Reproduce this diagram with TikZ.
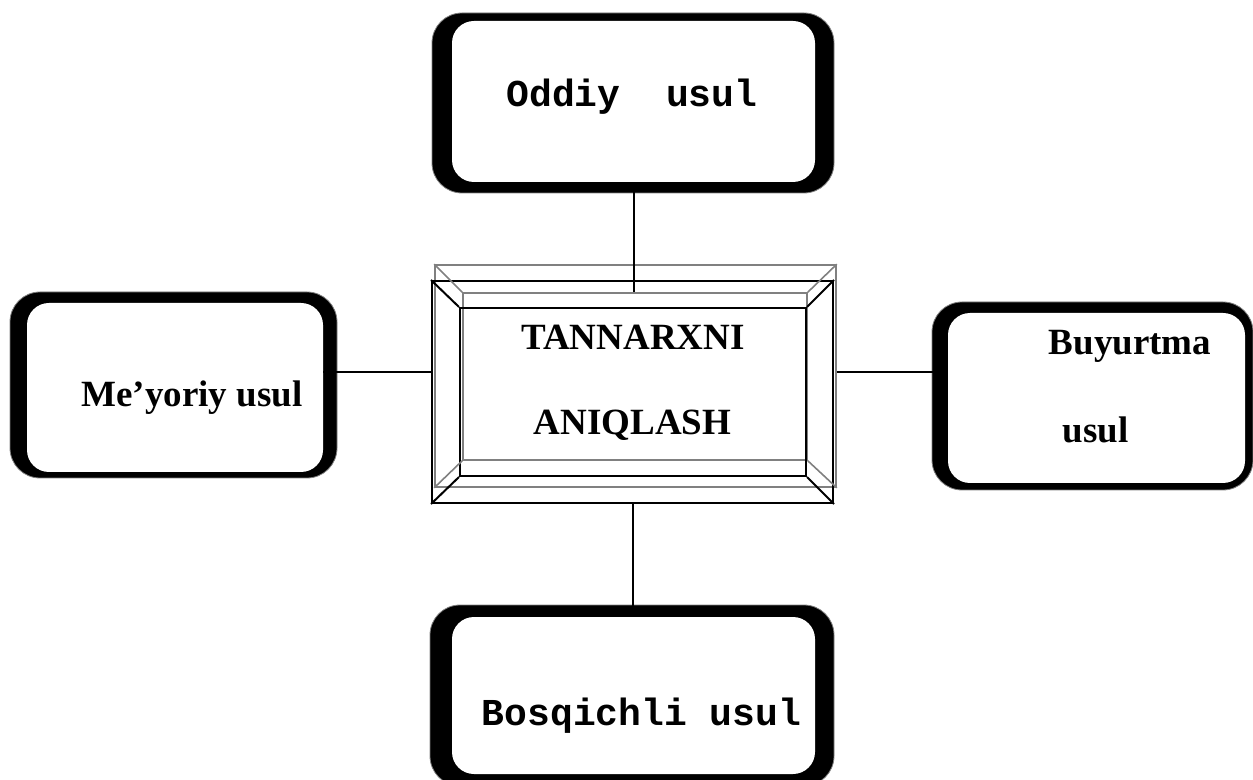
\documentclass[tikz,border=0pt]{standalone}
\usepackage{fontspec}
\setmainfont{Liberation Serif}
\setmonofont{Liberation Mono}
\begin{document}
\begin{tikzpicture}[x=0.5pt,y=-0.5pt]
    \useasboundingbox (0,0) rectangle (1253,780);
    % thick black rims of the four method boxes
    \begin{scope}
        \tikzstyle{every path}=[fill=black, draw=gray, rounded corners=15pt]
        \path (432,13) rectangle (834,193);
        \path (10,292) rectangle (337,478);
        \path (932,302) rectangle (1253,490);
        \path (430,605) rectangle (834,786);
    \end{scope}
    \begin{scope}
        \tikzstyle{every node}=[fill=white, rectangle, rounded corners=11pt, inner sep=0pt]
        \node[minimum width=181.5pt, minimum height=80.5pt] (oddiy) at (633.5,101.5) {};
        \node[minimum width=148pt, minimum height=84.5pt] (meyoriy) at (175,387.5) {};
        \node[minimum width=148.5pt, minimum height=85pt] (buyurtma) at (1096.5,398) {};
        \node[minimum width=181.5pt, minimum height=78.5pt] (bosqich) at (633.5,695.5) {};
    \end{scope}
    % bevelled frame in the middle
    \begin{scope}
        \tikzstyle{every node}=[rectangle, inner sep=0pt]
        \node[draw=gray, line width=0.8pt, minimum width=200.5pt, minimum height=111pt] (rim) at (635.5,376) {};
        \node[draw=gray, line width=0.8pt, minimum width=172pt, minimum height=83.5pt] (shade) at (635,376.5) {};
        \node[draw=black, line width=1pt, minimum width=200.5pt, minimum height=111pt] (core) at (632.5,392) {};
        \node[draw=black, line width=1pt, minimum width=173pt, minimum height=84pt] (face) at (633,392) {};
    \end{scope}
    \foreach \c in {north west, north east, south west, south east} {
        \draw[gray, line width=0.8pt] (rim.\c) -- (shade.\c);
        \draw[line width=1pt] (core.\c) -- (face.\c);
    }
    % labels
    \begin{scope}
        \tikzstyle{every node}=[anchor=base, inner sep=0pt, font=\fontsize{18.5}{22}\selectfont\bfseries]
        \node (title1) at (633,350) {TANNARXNI};
        \node (title2) at (632.5,435) {ANIQLASH};
        \node (meyoriytxt) at (192,407) {Me’yoriy usul};
        \node (buyurtmatxt) at (1130,355) {Buyurtma};
        \node (usultxt) at (1095.5,443) {usul};
        \node[font=\fontsize{19}{22}\selectfont\ttfamily\bfseries] (oddiytxt) at (632,107) {Oddiy\ \ usul};
        \node[font=\fontsize{19}{22}\selectfont\ttfamily\bfseries] (bosqichtxt) at (641.5,725) {Bosqichli usul};
    \end{scope}
    % links to the centre
    \coordinate (side) at (0,372);
    \begin{scope}
        \tikzstyle{every edge}=[draw, line width=1pt]
        \path
        (oddiy.south) edge (oddiy.south |- shade.north)
        (core.south) edge (core.south |- bosqich.north)
        (meyoriy.east |- side) edge (core.west |- side)
        (rim.east |- side) edge (buyurtma.west |- side);
    \end{scope}
\end{tikzpicture}
\end{document}
